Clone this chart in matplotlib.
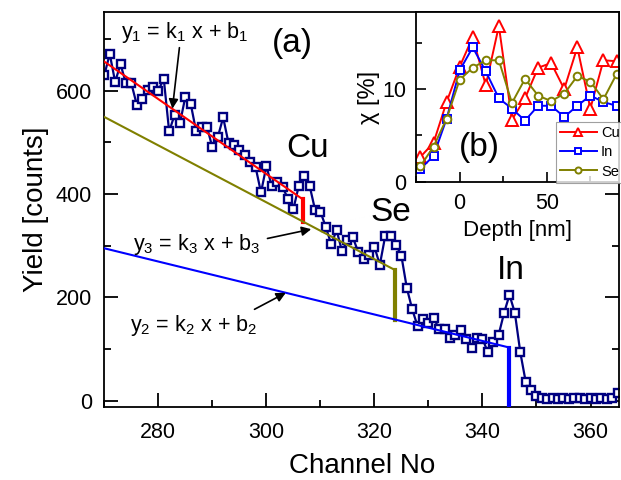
import numpy as np
import matplotlib
matplotlib.use('Agg')
import matplotlib.pyplot as plt
from matplotlib.ticker import MultipleLocator

plt.rcParams['font.family'] = ['Liberation Sans', 'DejaVu Sans']
plt.rcParams['mathtext.fontset'] = 'custom'
plt.rcParams['mathtext.rm'] = 'Liberation Sans'
plt.rcParams['mathtext.it'] = 'Liberation Sans'

# main spectrum: channel vs yield
channels = list(range(270, 366))
yields = [630, 671, 617, 651, 614, 614, 573, 584, 601, 606,
          600, 623, 521, 553, 537, 588, 574, 521, 530, 530,
          490, 510, 548, 498, 494, 485, 475, 461, 452, 403,
          454, 415, 424, 413, 391, 371, 416, 434, 416, 370,
          366, 336, 303, 330, 289, 311, 316, 288, 275, 282,
          298, 263, 319, 318, 302, 280, 218, 177, 144, 159,
          151, 160, 138, 138, 122, 128, 137, 120, 103, 122,
          120, 94, 114, 128, 170, 205, 170, 94, 37, 21,
          10, 5, 4, 5, 4, 5, 4, 5, 5, 4,
          5, 4, 5, 4, 6, 16]

# background fit lines (x start, x end, y start, y end) and edge drops
fit1_x = [270, 306.7]
fit1_y = [656, 390]
fit3_x = [270, 323.8]
fit3_y = [549, 253]
fit2_x = [270, 345]
fit2_y = [295, 103]
drop1 = [390, 346]
drop3 = [253, 157]
drop2 = [103, -12]

# inset: depth profiles
depth = [-22.5, -15, -7.5, 0, 7.5, 15, 22.5, 30, 37.5, 45, 52.5, 60, 67.5, 75, 82.5, 90]
chi_cu = [2.7, 4.2, 8.6, 12.4, 15.6, 10.4, 16.8, 6.7, 9.0, 12.3, 12.8, 10.0, 14.5, 7.9, 13.1, 13.0]
chi_in = [1.4, 2.8, 6.8, 12.0, 14.5, 11.9, 9.0, 7.9, 6.6, 8.2, 8.2, 7.0, 8.2, 9.3, 8.6, 8.2]
chi_se = [1.7, 3.8, 6.8, 11.0, 12.3, 13.1, 13.1, 8.5, 11.1, 9.3, 8.7, 9.5, 11.4, 10.8, 8.9, 11.6]

navy = '#000080'
olive = '#808000'

fig = plt.figure(figsize=(6.21, 4.80), dpi=100)
ax = fig.add_axes([0.168, 0.152, 0.829, 0.823])

ax.plot(channels, yields, '-s', color=navy, lw=1.6, ms=5.8, mfc='white', mec=navy, mew=1.7, zorder=2)
ax.plot(fit1_x, fit1_y, color='red', lw=1.5, zorder=3)
ax.plot([fit1_x[1]] * 2, drop1, color='red', lw=3, zorder=3)
ax.plot(fit3_x, fit3_y, color=olive, lw=1.5, zorder=3)
ax.plot([fit3_x[1]] * 2, drop3, color=olive, lw=3, zorder=3)
ax.plot(fit2_x, fit2_y, color='blue', lw=1.5, zorder=3)
ax.plot([fit2_x[1]] * 2, drop2, color='blue', lw=3, zorder=3)

ax.set_xlim(270, 365.3)
ax.set_ylim(-12, 752)
ax.xaxis.set_major_locator(MultipleLocator(20))
ax.xaxis.set_minor_locator(MultipleLocator(10))
ax.yaxis.set_major_locator(MultipleLocator(200))
ax.yaxis.set_minor_locator(MultipleLocator(100))
ax.tick_params(which='both', direction='in', right=True, width=1.3, labelsize=15.5)
ax.tick_params(which='major', length=10)
ax.tick_params(which='minor', length=5)
ax.tick_params(axis='x', which='both', pad=11)
ax.tick_params(axis='y', which='both', pad=9)
for s in ax.spines.values():
    s.set_linewidth(1.3)
ax.set_xlabel('Channel No', fontsize=20, labelpad=7)
ax.set_ylabel('Yield [counts]', fontsize=20, labelpad=5)

arrow = dict(arrowstyle='-|>', color='black', lw=1.2, mutation_scale=14, shrinkA=0, shrinkB=0)
ax.text(273, 702, 'y$_1$ = k$_1$ x + b$_1$', fontsize=15.5)
ax.annotate('', xy=(282.6, 565), xytext=(283.9, 683), arrowprops=arrow)
ax.text(275.4, 292, 'y$_3$ = k$_3$ x + b$_3$', fontsize=15.5)
ax.annotate('', xy=(308.3, 332), xytext=(300.2, 314), arrowprops=arrow)
ax.text(274.8, 136, 'y$_2$ = k$_2$ x + b$_2$', fontsize=15.5)
ax.annotate('', xy=(303.6, 209), xytext=(297.8, 177), arrowprops=arrow)

ax.text(304.8, 692, '(a)', fontsize=24, ha='center', va='center')
ax.text(307.6, 488, 'Cu', fontsize=24, ha='center', va='center')
ax.text(323.1, 365, 'Se', fontsize=24, ha='center', va='center')
ax.text(345.2, 253, 'In', fontsize=24, ha='center', va='center')

# inset
ins = fig.add_axes([0.670, 0.621, 0.327, 0.354])
ins.plot(depth, chi_cu, '-^', color='red', lw=1.4, ms=8, mfc='white', mec='red', mew=1.4, label='Cu')
ins.plot(depth, chi_in, '-s', color='blue', lw=1.4, ms=6, mfc='white', mec='blue', mew=1.4, label='In')
ins.plot(depth, chi_se, '-o', color=olive, lw=1.4, ms=5.5, mfc='white', mec=olive, mew=1.4, label='Se')
ins.set_xlim(-25, 91.5)
ins.set_ylim(0, 18.3)
ins.xaxis.set_major_locator(MultipleLocator(50))
ins.xaxis.set_minor_locator(MultipleLocator(25))
ins.yaxis.set_major_locator(MultipleLocator(10))
ins.yaxis.set_minor_locator(MultipleLocator(5))
ins.tick_params(which='both', direction='in', width=1.2, labelsize=15.5)
ins.tick_params(which='major', length=7)
ins.tick_params(which='minor', length=4)
ins.tick_params(axis='x', which='both', pad=8)
ins.tick_params(axis='y', which='both', pad=7)
for s in ins.spines.values():
    s.set_linewidth(1.3)
ins.set_xlabel('Depth [nm]', fontsize=16, labelpad=4)
ins.set_ylabel('χ [%]', fontsize=17, labelpad=2)
ins.text(11.4, 3.66, '(b)', fontsize=24, ha='center', va='center')

leg = ins.legend(loc='upper left', bbox_to_anchor=(0.895, 0.746), bbox_transform=fig.transFigure,
                 fontsize=10.5, frameon=True, fancybox=False, edgecolor='#888888',
                 handlelength=2.5, handletextpad=0.3, borderpad=0.3, labelspacing=0.35,
                 borderaxespad=0, markerscale=0.8)
leg.get_frame().set_linewidth(0.8)

fig.savefig('out.png', dpi=100)
